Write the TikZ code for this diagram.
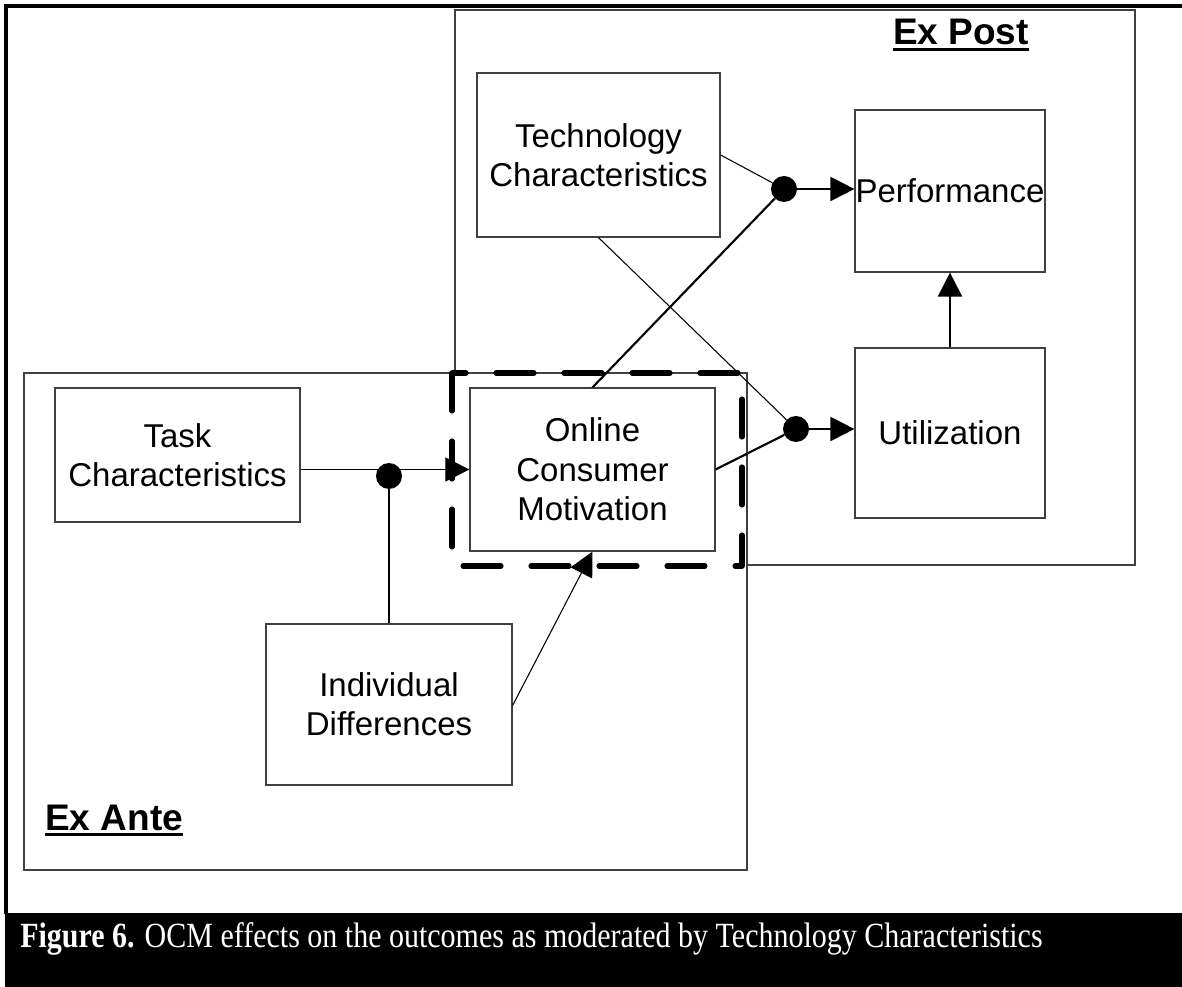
\documentclass[tikz,border=0pt]{standalone}
\usepackage{fontspec}
\setmainfont{Liberation Serif}
\newfontfamily\boxfont{Liberation Sans}
\usetikzlibrary{arrows.meta}

\tikzset{
  region/.style={draw=black!75, line width=1.1pt, inner sep=0pt},
  box/.style={draw=black!75, line width=0.9pt, fill=white, inner sep=0pt,
    align=center, font=\boxfont\fontsize{24.75pt}{29.5pt}\selectfont},
  dot/.style={circle, fill=black, inner sep=0pt, minimum size=19.5pt},
  thinlink/.style={line width=0.8pt},
  thicklink/.style={line width=1.6pt},
  tip/.style={-{Triangle[length=18pt,width=18pt]}},
  grouptitle/.style={inner sep=0pt, font=\boxfont\bfseries\fontsize{27.75pt}{30pt}\selectfont},
  titlerule/.style={line width=2.2pt},
  groupframe/.style={draw=black, line width=3.8pt, dash pattern=on 28.5pt off 22.5pt,
    line cap=round, line join=round}
}

\begin{document}
\begin{tikzpicture}[x=0.75pt, y=-0.75pt]
  \useasboundingbox (0,0) rectangle (1182,987);

  % page frame and caption band
  \draw[line width=2.6pt] (1182,6) -- (6,6) -- (6,914);
  \fill[black] (5,913) rectangle (1182,987);
  \node[anchor=base west, inner sep=0pt, text=white,
        font=\fontsize{22.5pt}{26pt}\selectfont] (caption) at (20,947)
    {\scalebox{1}[1.18]{\textbf{Figure 6.} OCM effects on the outcomes as moderated by Technology Characteristics}};

  % Ex Post region (drawn first, Ex Ante sits on top of it)
  \node[region, minimum width=680*0.75pt, minimum height=555*0.75pt] (expost) at (795,287.5) {};
  \node[region, fill=white, minimum width=723*0.75pt, minimum height=497*0.75pt] (exante) at (385.5,621.5) {};

  % region titles
  \node[grouptitle, anchor=base] (expostlbl) at (961,45) {Ex Post};
  \draw[titlerule] ([yshift=-3.6pt]expostlbl.base west) -- ([yshift=-3.6pt]expostlbl.base east);
  \node[grouptitle, anchor=base west] (exantelbl) at (45,830) {Ex Ante};
  \draw[titlerule] ([yshift=-3.6pt]exantelbl.base west) -- ([yshift=-3.6pt]exantelbl.base east);

  % construct boxes
  \node[box, minimum width=243*0.75pt, minimum height=164*0.75pt] (tech) at (598.5,155) {Technology\\Characteristics};
  \node[box, minimum width=190*0.75pt, minimum height=162*0.75pt] (perf) at (950,191) {Performance};
  \node[box, minimum width=190*0.75pt, minimum height=170*0.75pt] (util) at (950,433) {Utilization};
  \node[box, minimum width=245*0.75pt, minimum height=134*0.75pt] (task) at (177.5,455) {Task\\Characteristics};
  \node[box, minimum width=245*0.75pt, minimum height=163*0.75pt] (ocm) at (592.5,469.5) {Online\\Consumer\\Motivation};
  \node[box, minimum width=246*0.75pt, minimum height=161*0.75pt] (indiv) at (389,704.5) {Individual\\Differences};

  % dashed frame around the motivation construct
  \draw[groupframe] (452,373) rectangle (742,566);

  % moderation points
  \node[dot] (m1) at (784,189) {};
  \node[dot] (m2) at (796,429) {};
  \node[dot] (m3) at (389,476) {};

  % connectors
  \draw[thinlink] (tech.east) -- (m1);
  \draw[thicklink] (ocm.north) -- (m1);
  \draw[thicklink, tip] (m1) -- (m1 -| perf.west);

  \draw[thinlink] (tech.south) -- (m2);
  \draw[thicklink] (ocm.east) -- (m2);
  \draw[thicklink, tip] (m2) -- (m2 -| util.west);

  \draw[thicklink, tip] (util.north) -- (perf.south);

  \draw[thinlink, tip] (task.east |- ocm.west) -- (ocm.west);
  \draw[thinlink] (indiv.north) -- (m3);
  \draw[thinlink, tip] ([yshift=-0.75pt]indiv.east) -- (ocm.south);
\end{tikzpicture}
\end{document}
